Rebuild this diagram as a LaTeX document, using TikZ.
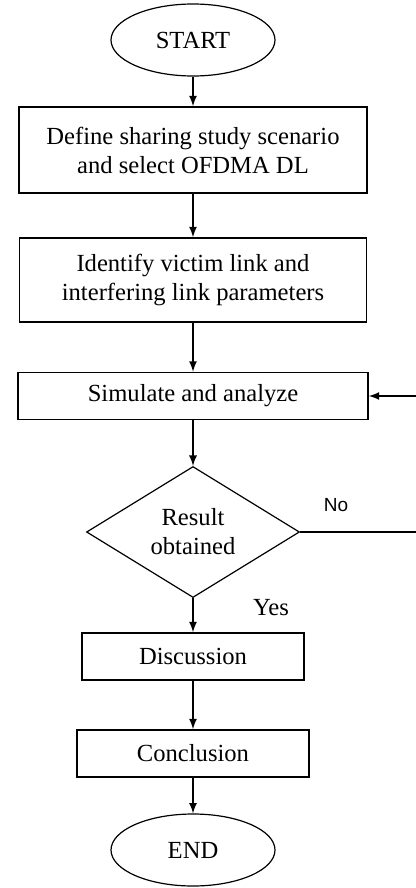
\documentclass[tikz,border=0pt]{standalone}
\usepackage{fontspec}
\setmainfont{Liberation Serif}
\newfontfamily\labelsans{Liberation Sans}
\usetikzlibrary{arrows,shapes.geometric}

\begin{document}
\begin{tikzpicture}[x=0.5pt,y=-0.5pt,
  every node/.style={font=\fontsize{12.3}{14.5}\selectfont},
  term/.style={draw,ellipse,line width=0.6pt,inner sep=0pt,minimum width=82pt,minimum height=36pt},
  stepbox/.style={draw,rectangle,line width=0.8pt,align=center,inner sep=0pt,minimum height=23.5pt},
  decide/.style={draw,diamond,line width=0.6pt,align=center,inner sep=0pt,minimum width=106.5pt,minimum height=65pt},
  flow/.style={-latex,line width=0.8pt}]
\useasboundingbox (0,0) rectangle (416,888);
\clip (0,0) rectangle (416,888);
% boxes
\node[term] (start) at (193,40) {START};
\node[stepbox,minimum width=174pt,minimum height=43pt] (define) at (193,150) {Define sharing study scenario\\and select OFDMA DL};
\node[stepbox,minimum width=173.5pt,minimum height=42pt] (identify) at (193,280) {Identify victim link and\\interfering link parameters};
\node[stepbox,minimum width=175pt] (sim) at (193,396) {Simulate and analyze};
\node[decide] (result) at (193,532) {Result\\obtained};
\node[stepbox,minimum width=111pt] (disc) at (193,656.5) {Discussion};
\node[stepbox,minimum width=116pt] (concl) at (193,753.5) {Conclusion};
\node[term] (end) at (193,850) {END};
\coordinate (loop) at (432,532);
% arrows
\draw[flow] (start) -- (define);
\draw[flow] (define) -- (identify);
\draw[flow] (identify) -- (sim);
\draw[flow] (sim) -- (result);
\draw[flow] (result) -- (disc);
\draw[flow] (disc) -- (concl);
\draw[flow] (concl) -- (end);
\draw[flow] (result.east) -- (loop) |- (sim.east);
\node (no) at (336,505) {\labelsans\fontsize{9.5}{11}\selectfont No};
\node (yes) at (271,608) {Yes};
\end{tikzpicture}
\end{document}
